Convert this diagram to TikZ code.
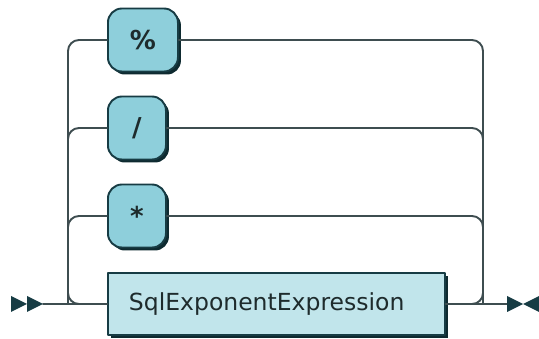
\documentclass[tikz,border=0pt]{standalone}
\usepackage{fontspec}
\setmainfont{DejaVu Sans}
\usetikzlibrary{positioning,shadows}

\definecolor{termfill}{HTML}{8ECFDB}
\definecolor{ntfill}{HTML}{C1E5EB}
\definecolor{boxedge}{HTML}{173C44}
\definecolor{shadowcol}{HTML}{0E2A30}
\definecolor{trackgray}{HTML}{3E4D50}
\definecolor{textgray}{HTML}{1E2B2C}

\begin{document}
\begin{tikzpicture}[
    x=1pt,
    y=-1pt,
    line cap=round,
    line join=round,
    track/.style={line width=1.9pt, draw=trackgray, rounded corners=11pt},
    terminal/.style={
        draw=boxedge,
        fill=termfill,
        line width=1.9pt,
        rounded corners=14pt,
        minimum height=63pt,
        inner xsep=0pt,
        anchor=west,
        text=textgray,
        font=\fontsize{26}{28}\selectfont\bfseries,
        drop shadow={shadow xshift=3pt, shadow yshift=-3pt,
            fill=shadowcol, opacity=1}
    },
    nonterminal/.style={
        draw=boxedge,
        fill=ntfill,
        line width=1.9pt,
        minimum height=62pt,
        inner xsep=21pt,
        anchor=west,
        align=left,
        text=textgray,
        font=\fontsize{23.5}{26}\selectfont,
        drop shadow={shadow xshift=3pt, shadow yshift=-3pt,
            fill=shadowcol, opacity=1}
    },
    tip/.style={fill=boxedge}
]

\useasboundingbox (0,0) rectangle (539,339);

% =========================================================
% Parameters
% =========================================================

\def\xl{68}     % left vertical of the choice
\def\xr{483}    % right vertical of the choice
\def\yend{304}  % main line

% =========================================================
% Boxes
% =========================================================

\node[terminal, minimum width=70pt] (pct) at (107,40) {\%};
\node[terminal, minimum width=58pt] (slash) at (107,128) {/};
\node[terminal, minimum width=58pt] (star) at (107,216) {*};
\node[nonterminal, text width=295pt] (expr) at (107,\yend)
    {SqlExponentExpression};

% =========================================================
% Ends of the main line
% =========================================================

\coordinate (start) at (43,\yend);
\coordinate (finish) at (507,\yend);
\coordinate (split) at (\xl,\yend);
\coordinate (join) at (\xr,\yend);

% =========================================================
% Main line
% =========================================================

\draw[track] (start) -- (expr.west);
\draw[track] (expr.east) -- (finish);

% =========================================================
% Branches
% =========================================================

\draw[track] (pct.west) -| (split) -- (expr.west);
\draw[track] (slash.west) -| (split);
\draw[track] (star.west) -| (split);

\draw[track] (pct.east) -| (join) -- (expr.east);
\draw[track] (slash.east) -| (join);
\draw[track] (star.east) -| (join);

% =========================================================
% Start and end markers
% =========================================================

\fill[tip] (11,296) -- (27,\yend) -- (11,312) -- cycle;
\fill[tip] (27,296) -- (start) -- (27,312) -- cycle;

\fill[tip] (finish) ++(0,-8) -- (523,\yend) -- (507,312) -- cycle;
\fill[tip] (539,296) -- (523,\yend) -- (539,312) -- cycle;

\end{tikzpicture}
\end{document}
